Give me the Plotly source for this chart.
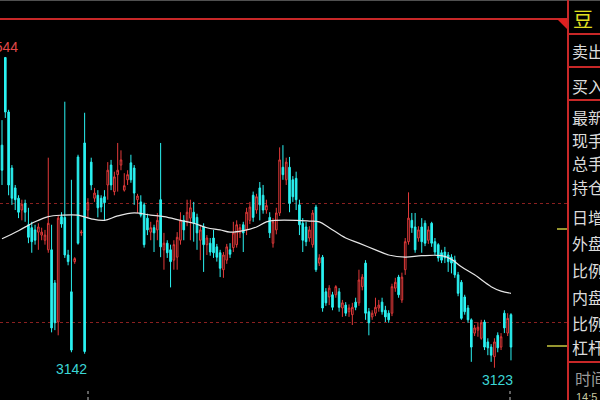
import plotly.graph_objects as go

# ---- candle data (index = bar number) ----
open_ = [3425,3544,3470,3394,3367,3353,3337,3346,3317,3313,
         3310,3307,3303,3296,3283,3283,3238,3185,3328,3327,
         3276,3226,3267,3409,3306,3428,3337,3402,3353,3357,
         3353,3355,3371,3398,3362,3385,3398,3364,3378,3401,
         3394,3351,3348,3344,3326,3307,3313,3310,3351,3283,
         3292,3283,3269,3273,3296,3323,3321,3326,3334,3327,
         3296,3314,3290,3292,3299,3287,3279,3256,3269,3283,
         3286,3290,3306,3317,3310,3323,3357,3337,3367,3357,
         3337,3327,3292,3310,3333,3395,3378,3395,3378,3380,
         3344,3319,3314,3299,3290,3341,3265,3273,3226,3219,
         3222,3222,3226,3204,3208,3199,3195,3212,3211,3233,
         3265,3199,3192,3197,3204,3212,3201,3197,3197,3231,
         3246,3215,3256,3294,3323,3314,3299,3314,3319,3296,
         3319,3294,3290,3279,3280,3276,3273,3269,3249,3239,
         3219,3204,3188,3170,3174,3163,3185,3158,3151,3138,
         3167,3151,3197,3170,3195]
high = [3459,3544,3473,3398,3371,3357,3351,3351,3340,3321,
        3317,3319,3313,3310,3408,3317,3242,3330,3334,3484,
        3283,3378,3273,3412,3310,3469,3353,3408,3367,3364,
        3357,3364,3402,3405,3389,3428,3418,3387,3391,3412,
        3398,3359,3357,3347,3332,3321,3317,3333,3428,3306,
        3296,3290,3296,3307,3334,3330,3351,3351,3348,3332,
        3317,3319,3303,3299,3310,3291,3283,3280,3291,3292,
        3321,3323,3318,3321,3340,3348,3362,3359,3375,3371,
        3351,3334,3326,3340,3422,3425,3408,3409,3383,3389,
        3351,3326,3321,3315,3337,3344,3277,3276,3231,3235,
        3226,3235,3231,3215,3212,3209,3211,3218,3256,3250,
        3269,3204,3201,3218,3215,3218,3207,3201,3237,3245,
        3249,3252,3299,3361,3333,3333,3315,3326,3323,3315,
        3321,3299,3292,3283,3287,3280,3277,3275,3253,3242,
        3222,3208,3190,3181,3185,3188,3188,3163,3155,3163,
        3171,3170,3201,3197,3197]
low = [3371,3462,3357,3344,3337,3326,3323,3321,3292,3279,
       3290,3283,3296,3290,3279,3171,3174,3167,3313,3272,
       3262,3144,3264,3290,3302,3142,3327,3364,3348,3327,
       3334,3323,3351,3364,3357,3362,3391,3362,3371,3374,
       3344,3333,3327,3286,3303,3296,3280,3296,3273,3256,
       3272,3232,3256,3256,3290,3296,3315,3296,3294,3283,
       3269,3253,3276,3275,3272,3267,3246,3245,3264,3272,
       3280,3286,3299,3280,3303,3318,3321,3332,3323,3332,
       3332,3299,3286,3304,3329,3378,3371,3334,3348,3337,
       3303,3280,3288,3294,3286,3253,3261,3199,3207,3208,
       3201,3218,3199,3192,3193,3192,3181,3201,3207,3228,
       3188,3167,3188,3193,3199,3195,3185,3184,3193,3226,
       3218,3211,3249,3290,3306,3279,3294,3279,3288,3291,
       3287,3276,3267,3265,3265,3253,3251,3245,3220,3188,
       3195,3184,3131,3166,3165,3161,3147,3140,3131,3123,
       3144,3147,3170,3166,3133]
close = [3391,3470,3371,3353,3351,3334,3345,3334,3300,3294,
         3296,3314,3307,3303,3319,3177,3184,3326,3318,3276,
         3267,3147,3271,3292,3307,3145,3347,3371,3360,3340,
         3341,3347,3391,3371,3382,3391,3405,3370,3385,3378,
         3360,3356,3330,3290,3310,3313,3306,3323,3287,3292,
         3279,3267,3290,3300,3323,3310,3334,3340,3319,3306,
         3310,3290,3299,3280,3279,3273,3258,3276,3287,3277,
         3306,3317,3313,3306,3334,3341,3327,3355,3344,3337,
         3343,3306,3321,3333,3405,3385,3402,3346,3355,3351,
         3317,3296,3294,3310,3333,3256,3272,3204,3211,3231,
         3205,3233,3205,3211,3197,3204,3205,3205,3242,3246,
         3197,3184,3197,3205,3208,3199,3192,3188,3233,3239,
         3222,3246,3294,3326,3313,3283,3310,3294,3292,3310,
         3292,3280,3272,3269,3272,3267,3265,3249,3224,3190,
         3199,3188,3151,3177,3178,3184,3151,3150,3140,3158,
         3150,3165,3177,3190,3151]

# ---- moving-average line read at sampled bars ----
ma_idx = [0,5,10,14,18,23,27,31,35,40,45,49,54,58,62,66,69,73,77,80,83,89,
          93,96,99,104,108,113,117,122,127,133,136,139,143,148,151,154]
ma_val = [3298,3309,3321,3328,3330,3330,3325,3323,3329,3333,3330,3328,3323,
          3319,3313,3310,3307,3309,3314,3321,3323,3323,3322,3321,3313,3299,
          3292,3283,3276,3273,3275,3275,3270,3260,3249,3233,3227,3224]

grid_levels = [3346, 3184]
high_label = "3544"
low_labels = ["3142", "3123"]
panel_title = "豆"
panel_labels = ["卖出", "买入", "最新", "现手", "总手", "持仓", "日增",
                "外盘", "比例", "内盘", "比例", "杠杆"]
panel_label_y = [51, 86, 117, 140, 163, 187, 217, 243, 270, 297, 323, 347]

n = len(open_)
assert n == len(high) == len(low) == len(close)
idx = list(range(n))

RED = "#e23a3a"
CYAN = "#2af2f2"

fig = go.Figure()
fig.add_trace(go.Candlestick(
    x=idx, open=open_, high=high, low=low, close=close,
    increasing=dict(line=dict(color=RED, width=1), fillcolor="#000000"),
    decreasing=dict(line=dict(color=CYAN, width=1), fillcolor=CYAN),
    whiskerwidth=0, hoverinfo="skip", showlegend=False))
fig.add_trace(go.Scatter(x=ma_idx, y=ma_val, mode="lines",
                         line=dict(color="#e6e6e6", width=1.2, shape="spline"),
                         hoverinfo="skip", showlegend=False))

W, H = 600, 400
def px(x):
    return x / W
def py(y):
    return 1 - y / H

shapes = []
shapes.append(dict(type="line", xref="paper", yref="paper", x0=0, x1=px(567),
                   y0=py(19), y1=py(19), line=dict(color="#c82828", width=2)))
shapes.append(dict(type="line", xref="paper", yref="paper", x0=0, x1=1,
                   y0=py(0.5), y1=py(0.5), line=dict(color="#505050", width=1)))
shapes.append(dict(type="path", xref="paper", yref="paper",
                   path=f"M {px(557)} {py(19)} L {px(567)} {py(19)} L {px(567)} {py(29)} Z",
                   fillcolor="#e02020", line=dict(width=0)))
shapes.append(dict(type="line", xref="paper", yref="paper", x0=px(568), x1=px(568),
                   y0=0, y1=1, line=dict(color="#c82828", width=2)))
for yy in [34, 67, 100, 362]:
    shapes.append(dict(type="line", xref="paper", yref="paper", x0=px(568), x1=1,
                       y0=py(yy), y1=py(yy), line=dict(color="#c82828", width=2)))
shapes.append(dict(type="line", xref="paper", yref="paper", x0=px(557), x1=px(567),
                   y0=py(229), y1=py(229), line=dict(color="#c8c840", width=1.5)))
shapes.append(dict(type="line", xref="paper", yref="paper", x0=px(547), x1=px(567),
                   y0=py(346), y1=py(346), line=dict(color="#c8c840", width=1.5)))
for xx in [88, 510]:
    shapes.append(dict(type="line", xref="paper", yref="paper", x0=px(xx), x1=px(xx),
                       y0=0, y1=py(388), line=dict(color="#c0c0c0", width=1, dash="dot")))

annotations = []
annotations.append(dict(text=high_label, xref="paper", yref="paper", x=px(20), y=py(47),
                        xanchor="right", yanchor="middle", showarrow=False,
                        font=dict(color="#e04848", size=14, family="Liberation Sans")))
annotations.append(dict(text=low_labels[0], xref="paper", yref="paper", x=px(71), y=py(369),
                        xanchor="center", yanchor="middle", showarrow=False,
                        font=dict(color="#3cd6d6", size=14, family="Liberation Sans")))
annotations.append(dict(text=low_labels[1], xref="paper", yref="paper", x=px(497), y=py(380),
                        xanchor="center", yanchor="middle", showarrow=False,
                        font=dict(color="#3cd6d6", size=14, family="Liberation Sans")))
annotations.append(dict(text=panel_title, xref="paper", yref="paper", x=px(571), y=py(19),
                        xanchor="left", yanchor="middle", showarrow=False,
                        font=dict(color="#e0e020", size=20, family="Noto Sans CJK SC")))
for lab, yy in zip(panel_labels, panel_label_y):
    annotations.append(dict(text=lab, xref="paper", yref="paper", x=px(570), y=py(yy),
                            xanchor="left", yanchor="middle", showarrow=False,
                            font=dict(color="#dcdcdc", size=16, family="Noto Sans CJK SC")))
annotations.append(dict(text="时间", xref="paper", yref="paper", x=px(573), y=py(378),
                        xanchor="left", yanchor="middle", showarrow=False,
                        font=dict(color="#9a9a9a", size=16, family="Noto Sans CJK SC")))
annotations.append(dict(text="14:5", xref="paper", yref="paper", x=px(574), y=py(397),
                        xanchor="left", yanchor="middle", showarrow=False,
                        font=dict(color="#c8c8a0", size=11, family="Liberation Sans")))

spacing = 3.305
fig.update_layout(
    width=W, height=H, margin=dict(l=0, r=0, t=0, b=0),
    paper_bgcolor="#000000", plot_bgcolor="#000000",
    xaxis=dict(domain=[0, 567 / W], range=[-2 / spacing, 565 / spacing],
               showgrid=False, zeroline=False, showticklabels=False,
               rangeslider=dict(visible=False), fixedrange=True),
    yaxis=dict(domain=[0, 1], range=[3079.2, 3622.0],
               tickvals=grid_levels, showgrid=True, gridcolor="#8a2020",
               griddash="dot", gridwidth=1, zeroline=False,
               showticklabels=False, fixedrange=True),
    shapes=shapes, annotations=annotations, showlegend=False,
)

fig.write_html("out.html", config={"displayModeBar": False, "staticPlot": True},
               post_script="document.body.style.margin='0';document.body.style.overflow='hidden';")
